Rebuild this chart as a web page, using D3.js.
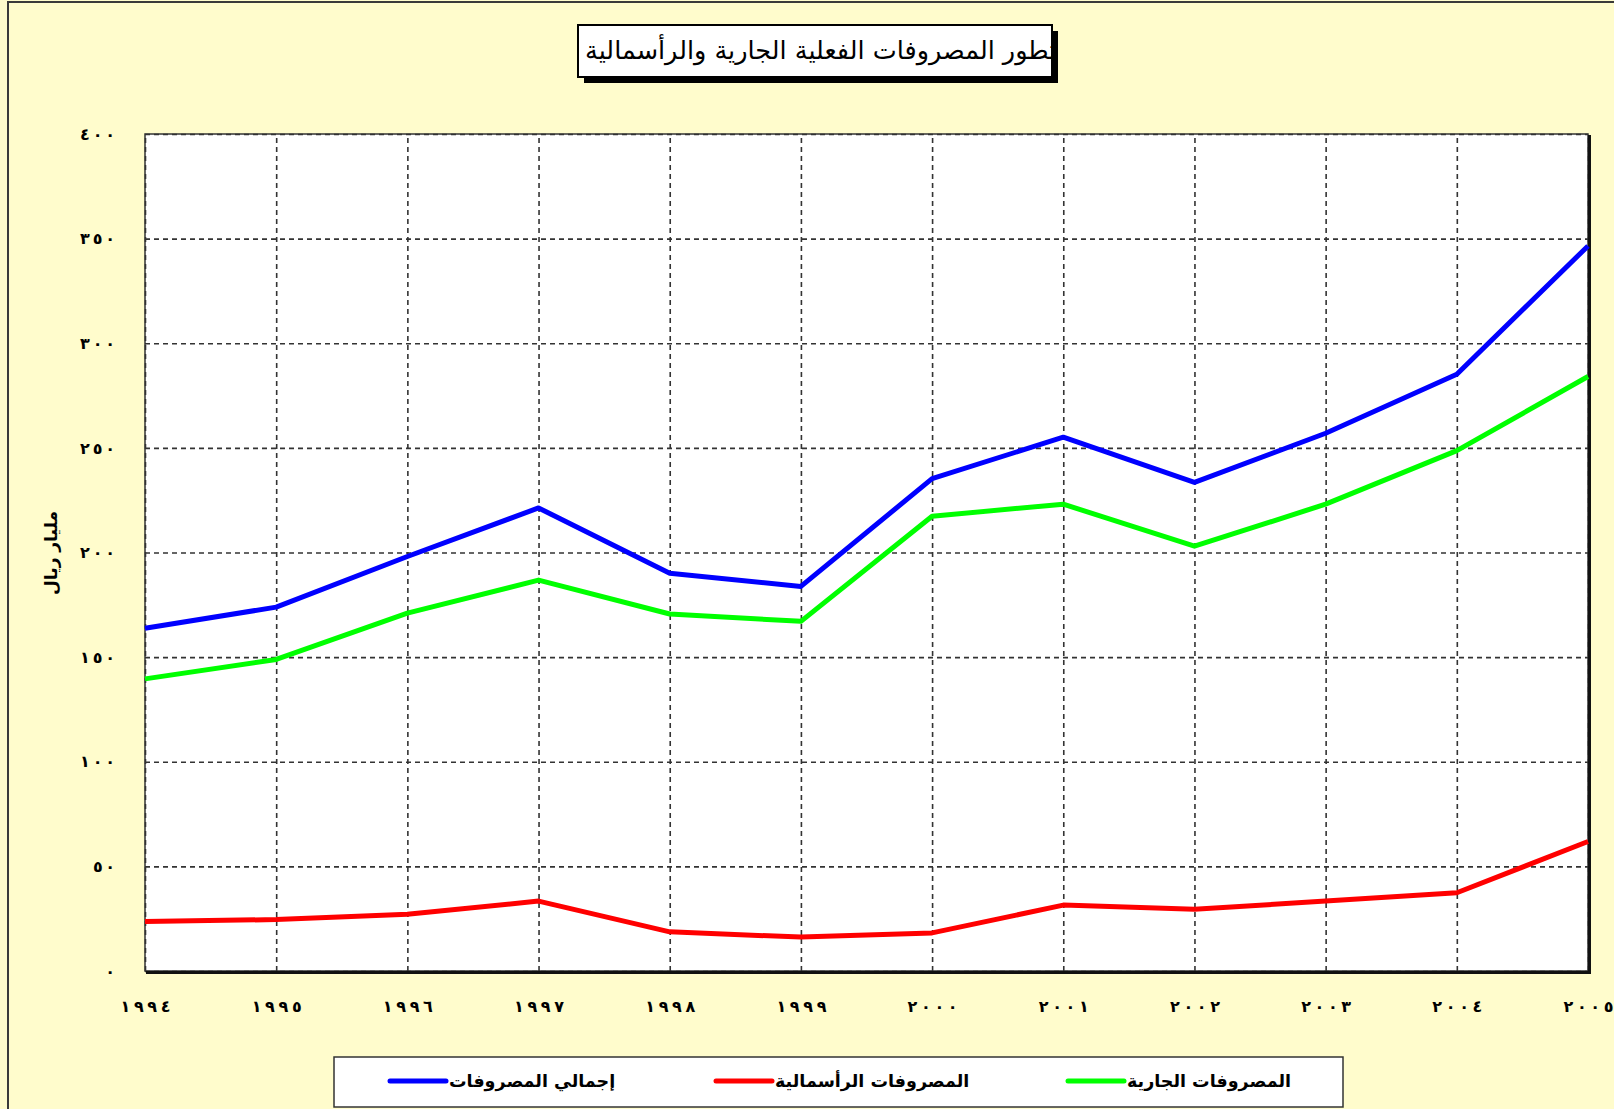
<!DOCTYPE html>
<html>
<head>
<meta charset="utf-8">
<script src="https://cdn.jsdelivr.net/npm/d3@7"></script>
<style>
  body { margin: 0; background: #fffccc; }
  svg { display: block; }
  text { font-family: "DejaVu Sans", sans-serif; }
</style>
</head>
<body>
<div id="chart"></div>
<script>
// years on the x axis
var years = [1994, 1995, 1996, 1997, 1998, 1999, 2000, 2001, 2002, 2003, 2004, 2005];
// y axis ticks
var yTicks = [0, 50, 100, 150, 200, 250, 300, 350, 400];

// billion riyals
var totalSpend   = [163.8, 173.9, 198.1, 221.3, 190.1, 183.8, 235.3, 255.1, 233.5, 257.0, 285.2, 346.5];
var currentSpend = [139.6, 148.9, 171.0, 186.8, 170.6, 167.1, 217.3, 223.1, 203.0, 223.1, 248.7, 284.1];
var capitalSpend = [23.6, 24.6, 27.1, 33.4, 18.7, 16.2, 18.2, 31.5, 29.5, 33.4, 37.4, 61.9];

var seriesNames  = ["إجمالي المصروفات", "المصروفات الرأسمالية", "المصروفات الجارية"];
var seriesColors = ["#0000ff", "#ff0000", "#00ff00"];
var seriesValues = [totalSpend, capitalSpend, currentSpend];

var titleText = "تطور المصروفات الفعلية الجارية والرأسمالية";
var yTitle = "مليار ريال";

var svgWidth = 1614;
var svgHeight = 1109;

var plot = { left: 145, top: 134, right: 1588, bottom: 971 };
var plotWidth = plot.right - plot.left;
var plotHeight = plot.bottom - plot.top;

var arabicDigits = "٠١٢٣٤٥٦٧٨٩";
function toArabic(n) {
  return String(n).replace(/\d/g, c => arabicDigits[+c]);
}

var svg = d3.select("#chart")
  .append("svg")
  .attr("width", svgWidth)
  .attr("height", svgHeight);

// outer chart frame
svg.append("rect")
  .attr("x", 8).attr("y", 2)
  .attr("width", svgWidth + 20).attr("height", svgHeight + 20)
  .attr("fill", "#fffccc")
  .attr("stroke", "#3a3a3a")
  .attr("stroke-width", 2);

var xScale = d3.scalePoint()
  .domain(years)
  .range([0, plotWidth]);

var yScale = d3.scaleLinear()
  .domain([0, 400])
  .range([plotHeight, 0]);

var g = svg.append("g")
  .attr("transform", `translate(${plot.left}, ${plot.top})`);

// plot area
g.append("rect")
  .attr("width", plotWidth)
  .attr("height", plotHeight)
  .attr("fill", "#ffffff");

// gridlines
g.append("g")
  .attr("class", "grid")
  .call(d3.axisLeft(yScale).tickValues(yTicks).tickSize(-plotWidth).tickFormat(""))
  .call(s => s.select(".domain").remove())
  .selectAll("line")
  .attr("stroke", "#333")
  .attr("stroke-width", 1.6)
  .attr("stroke-dasharray", "5,4");

g.append("g")
  .attr("class", "grid")
  .attr("transform", `translate(0, ${plotHeight})`)
  .call(d3.axisBottom(xScale).tickSize(-plotHeight).tickFormat(""))
  .call(s => s.select(".domain").remove())
  .selectAll("line")
  .attr("stroke", "#333")
  .attr("stroke-width", 1.6)
  .attr("stroke-dasharray", "5,4");

// plot border
g.append("rect")
  .attr("width", plotWidth)
  .attr("height", plotHeight)
  .attr("fill", "none")
  .attr("stroke", "#333")
  .attr("stroke-width", 1.5);

g.append("path")
  .attr("d", `M1,${plotHeight + 1.5} H${plotWidth + 1.5} V1`)
  .attr("fill", "none")
  .attr("stroke", "#111")
  .attr("stroke-width", 3);

// y tick labels (spread out like the original)
g.append("g")
  .attr("transform", "translate(-30, 0)")
  .call(d3.axisLeft(yScale).tickValues(yTicks).tickSize(0).tickPadding(0).tickFormat(toArabic))
  .call(s => s.select(".domain").remove())
  .selectAll("text")
  .attr("font-family", "DejaVu Sans")
  .attr("font-size", "16px")
  .attr("font-weight", "bold")
  .attr("fill", "#000")
  .attr("textLength", function() { return this.textContent.length * 13 - 4; })
  .attr("lengthAdjust", "spacing");

// x tick labels
g.append("g")
  .attr("transform", `translate(0, ${plotHeight + 30})`)
  .call(d3.axisBottom(xScale).tickSize(0).tickPadding(0).tickFormat(toArabic))
  .call(s => s.select(".domain").remove())
  .selectAll("text")
  .attr("font-family", "DejaVu Sans")
  .attr("font-size", "16px")
  .attr("font-weight", "bold")
  .attr("fill", "#000")
  .attr("textLength", 50)
  .attr("lengthAdjust", "spacing");

// lines
var line = d3.line()
  .x((d, i) => xScale(years[i]))
  .y(d => yScale(d));

g.selectAll(".series")
  .data(seriesValues)
  .enter()
  .append("path")
  .attr("class", "series")
  .attr("d", d => line(d))
  .attr("fill", "none")
  .attr("stroke", (d, i) => seriesColors[i])
  .attr("stroke-width", 5)
  .attr("stroke-linejoin", "round");

// y axis title
svg.append("text")
  .attr("transform", "translate(57, 553) rotate(-90)")
  .attr("text-anchor", "middle")
  .attr("font-size", "17px")
  .attr("font-weight", "bold")
  .attr("fill", "#000")
  .text(yTitle);

// title box with shadow
var tb = { x: 578, y: 25, w: 474, h: 52 };
svg.append("rect")
  .attr("x", tb.x + 6).attr("y", tb.y + 6)
  .attr("width", tb.w).attr("height", tb.h)
  .attr("fill", "#000");
svg.append("rect")
  .attr("x", tb.x).attr("y", tb.y)
  .attr("width", tb.w).attr("height", tb.h)
  .attr("fill", "#fff")
  .attr("stroke", "#000")
  .attr("stroke-width", 2);
svg.append("clipPath")
  .attr("id", "titleClip")
  .append("rect")
  .attr("x", tb.x + 1).attr("y", tb.y)
  .attr("width", tb.w - 2).attr("height", tb.h);
svg.append("text")
  .attr("clip-path", "url(#titleClip)")
  .attr("x", tb.x + 7)
  .attr("y", tb.y + 34)
  .attr("text-anchor", "start")
  .attr("font-size", "25.5px")
  .attr("fill", "#000")
  .text(titleText);

// legend
var lg = { x: 334, y: 1057, w: 1009, h: 50 };
svg.append("rect")
  .attr("x", lg.x).attr("y", lg.y)
  .attr("width", lg.w).attr("height", lg.h)
  .attr("fill", "#fff")
  .attr("stroke", "#333")
  .attr("stroke-width", 1.5);

var legendX = [446, 772, 1124];
var legendItem = svg.selectAll(".legend")
  .data(seriesNames)
  .enter()
  .append("g")
  .attr("class", "legend")
  .attr("transform", (d, i) => `translate(${legendX[i]}, ${lg.y + 24})`);

legendItem.append("line")
  .attr("x1", -56).attr("x2", 0)
  .attr("stroke", (d, i) => seriesColors[i])
  .attr("stroke-width", 5)
  .attr("stroke-linecap", "round");

legendItem.append("text")
  .attr("x", 3)
  .attr("dy", "0.35em")
  .attr("text-anchor", "start")
  .attr("font-size", "17.5px")
  .attr("font-weight", "bold")
  .attr("fill", "#000")
  .text(d => d);
</script>
</body>
</html>
